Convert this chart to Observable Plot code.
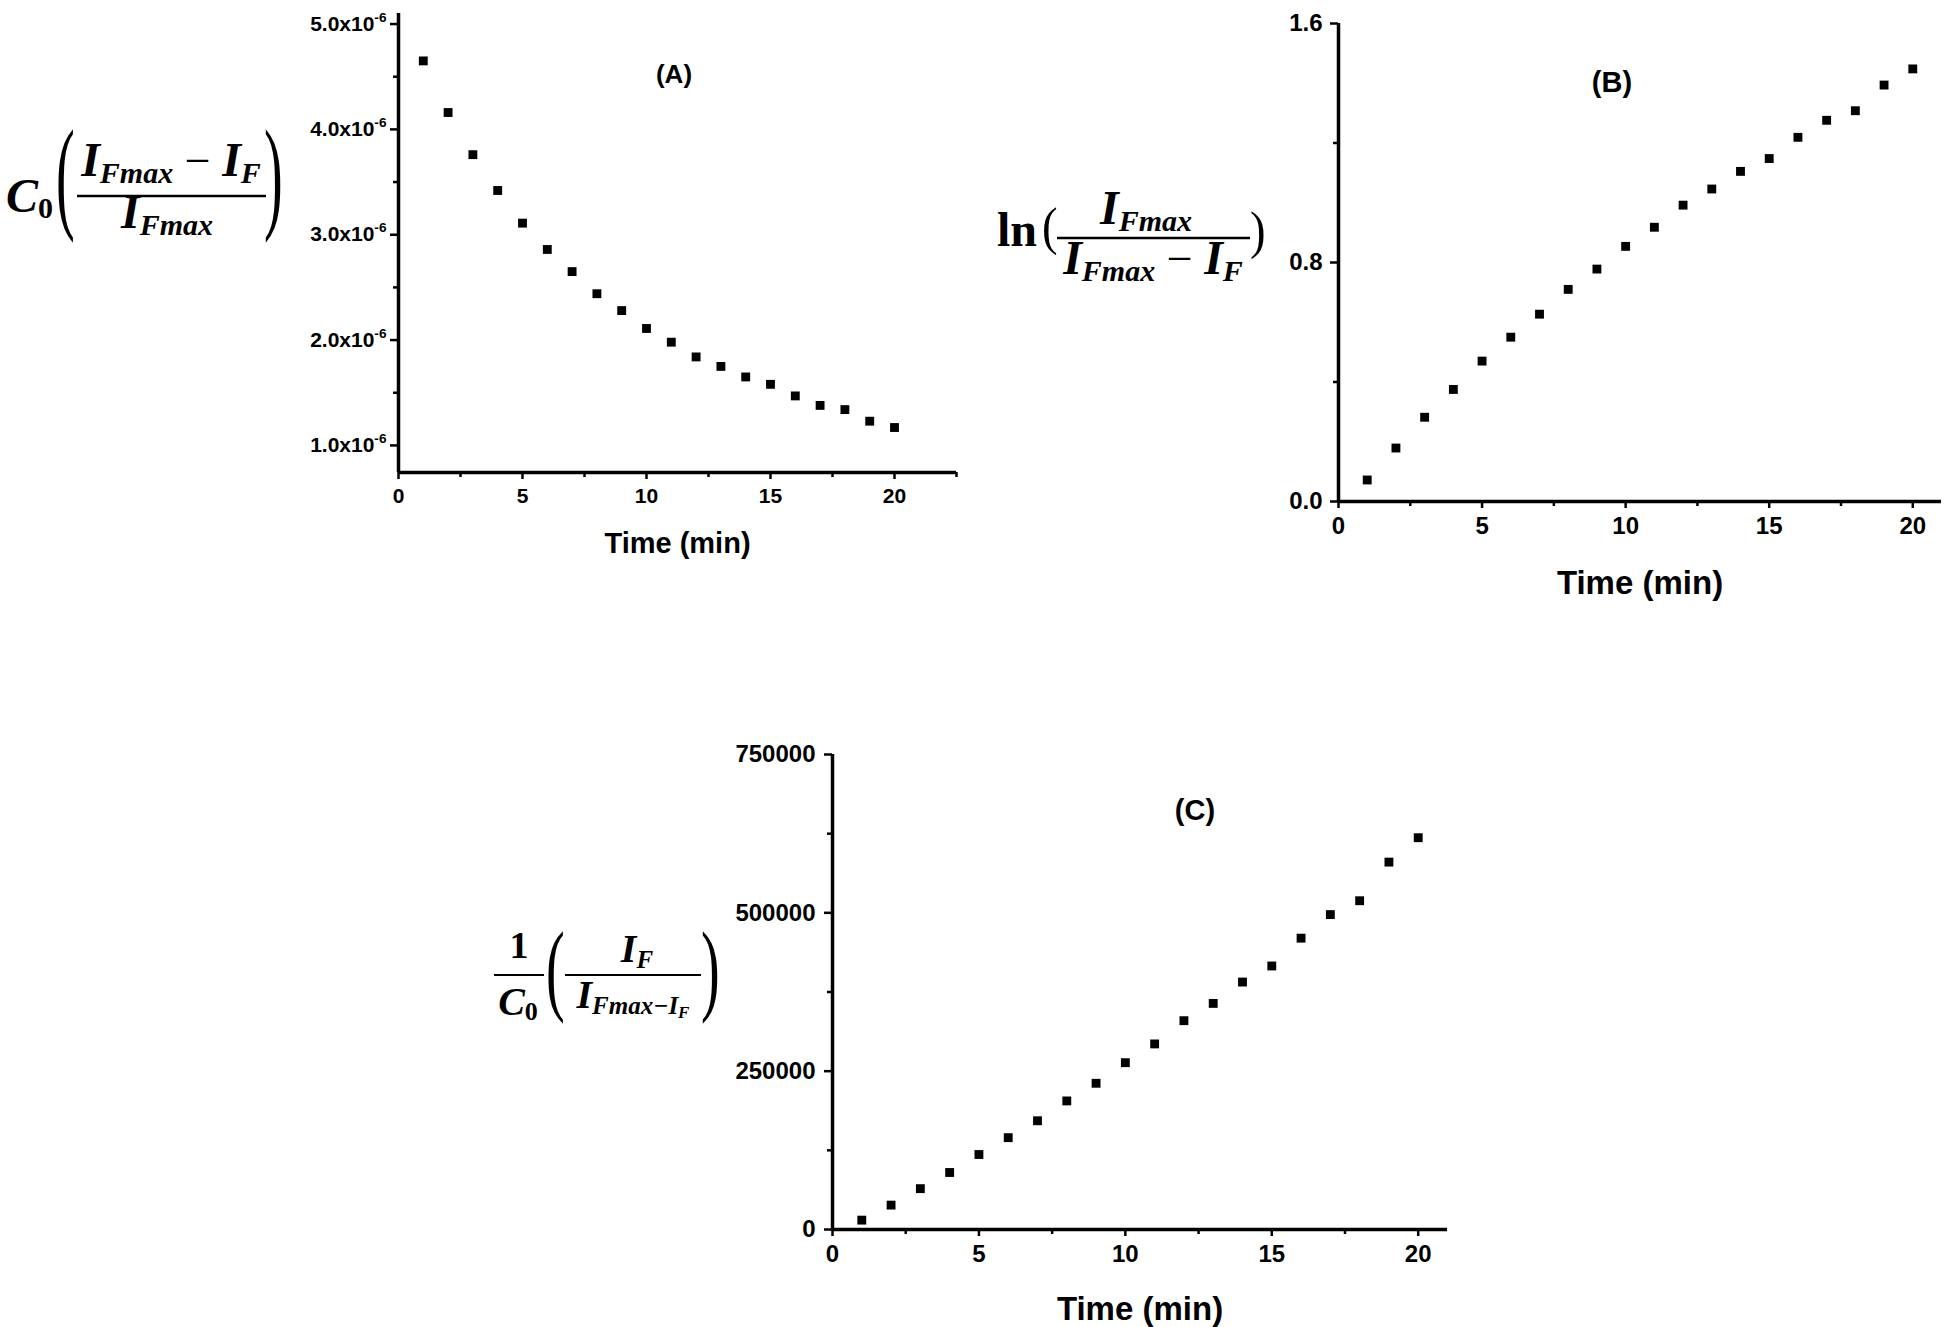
<!DOCTYPE html>
<html><head><meta charset="utf-8">
<script src="https://cdn.jsdelivr.net/npm/d3@7"></script>
<script src="https://cdn.jsdelivr.net/npm/@observablehq/plot@0.6"></script>
<style>
html,body{margin:0;padding:0;background:#fff;}
#root{position:relative;width:1946px;height:1327px;overflow:hidden;background:#fff;}
.panel{position:absolute;}
#overlay{position:absolute;left:0;top:0;pointer-events:none;}
</style></head><body><div id="root"></div>
<script>
// ---- data ----
const time = [1,2,3,4,5,6,7,8,9,10,11,12,13,14,15,16,17,18,19,20];
const seriesA = [4.65e-6,4.16e-6,3.76e-6,3.42e-6,3.11e-6,2.86e-6,2.65e-6,2.44e-6,2.28e-6,2.11e-6,
                 1.98e-6,1.84e-6,1.75e-6,1.65e-6,1.58e-6,1.47e-6,1.38e-6,1.34e-6,1.23e-6,1.17e-6];
const seriesB = [0.072,0.179,0.282,0.375,0.470,0.550,0.627,0.710,0.778,0.854,
                 0.918,0.992,1.046,1.105,1.148,1.219,1.276,1.308,1.394,1.448];
const seriesC = [14800,38500,64500,90000,118400,145000,171700,203000,230900,263400,
                 293000,329700,357000,390700,416100,460000,497200,519100,580100,618600];
const xTicks = [0,5,10,15,20];
const xMinorA = [2.5,7.5,12.5,17.5,22.5];
const xMinorBC = [2.5,7.5,12.5,17.5];
const yTicksA = [1e-6,2e-6,3e-6,4e-6,5e-6];
const yTickLabelsA = ["1.0x10","2.0x10","3.0x10","4.0x10","5.0x10"];
const yTickExpA = "-6";
const yMinorA = [1.5e-6,2.5e-6,3.5e-6,4.5e-6];
const yTicksB = [0,0.8,1.6];
const yTickLabelsB = ["0.0","0.8","1.6"];
const yMinorB = [0.4,1.2];
const yTicksC = [0,250000,500000,750000];
const yMinorC = [125000,375000,625000];
const xTitle = "Time (min)";
const panelLetters = ["(A)","(B)","(C)"];

const root = document.getElementById("root");
const FONT = "'Liberation Sans', Arial, Helvetica, sans-serif";

function makePanel(cfg) {
  const data = time.map((t,i)=>({t, v: cfg.values[i]}));
  const svg = Plot.plot({
    width: cfg.width, height: cfg.height,
    marginLeft: cfg.ml, marginRight: cfg.mr, marginTop: cfg.mt, marginBottom: cfg.mb,
    style: {fontFamily: FONT, fontWeight: "bold", fontSize: cfg.tickFont + "px", color: "#000", background: "transparent", overflow: "visible"},
    x: {domain: cfg.xDomain},
    y: {domain: cfg.yDomain},
    marks: [
      Plot.axisX({ticks: xTicks, tickSize: 7, tickPadding: cfg.xPad, strokeWidth: 2.5,
                  label: xTitle, labelAnchor: "center", labelOffset: cfg.labelOffset, labelArrow: "none"}),
      Plot.axisX({ticks: cfg.xMinor, tickSize: 5, strokeWidth: 2.5, text: null, label: null}),
      Plot.axisY({ticks: cfg.yTicks, tickFormat: cfg.yFormat, tickSize: 8, tickPadding: cfg.yPad, strokeWidth: 2.5, label: null}),
      Plot.axisY({ticks: cfg.yMinor, tickSize: 5, strokeWidth: 2.5, text: null, label: null}),
      Plot.ruleX([cfg.xDomain[0]], {stroke: "#000", strokeWidth: 3.5}),
      Plot.ruleY([cfg.yDomain[0]], {stroke: "#000", strokeWidth: 3.5}),
      Plot.dot(data, {x: "t", y: "v", symbol: "square", r: 5, fill: "#000", stroke: null})
    ]
  });
  svg.classList.add("panel");
  svg.style.left = cfg.left + "px";
  svg.style.top = cfg.top + "px";
  const lab = svg.querySelector('[aria-label="x-axis label"]');
  if (lab) lab.setAttribute("font-size", cfg.titleFont);
  if (cfg.sup) {
    d3.select(svg).selectAll('[aria-label="y-axis tick label"] text')
      .filter(function() { return cfg.supLabels.includes(this.textContent); })
      .each(function() {
        d3.select(this).append("tspan").attr("dy", -9).attr("font-size", cfg.tickFont * 0.65).text(cfg.sup);
      });
  }
  root.appendChild(svg);
}

makePanel({
  values: seriesA, left: 260, top: 0, width: 730, height: 580,
  ml: 138, mr: 34, mt: 13, mb: 108,
  xDomain: [0, 22.5], yDomain: [0.743e-6, 5.1e-6],
  yTicks: yTicksA, yFormat: d => yTickLabelsA[yTicksA.indexOf(d)] ?? "", yMinor: yMinorA, xMinor: xMinorA,
  tickFont: 21, titleFont: 29, xPad: 9, yPad: 4, labelOffset: 80, sup: yTickExpA, supLabels: yTickLabelsA
});
makePanel({
  values: seriesB, left: 1200, top: 0, width: 746, height: 620,
  ml: 138, mr: 5, mt: 23, mb: 119,
  xDomain: [0, 21], yDomain: [0, 1.6],
  yTicks: yTicksB, yFormat: d => yTickLabelsB[yTicksB.indexOf(d)] ?? "", yMinor: yMinorB, xMinor: xMinorBC,
  tickFont: 24, titleFont: 33, xPad: 8, yPad: 8, labelOffset: 92
});
makePanel({
  values: seriesC, left: 690, top: 700, width: 800, height: 627,
  ml: 142, mr: 43, mt: 54, mb: 98,
  xDomain: [0, 21], yDomain: [0, 750000],
  yTicks: yTicksC, yFormat: d => String(d), yMinor: yMinorC, xMinor: xMinorBC,
  tickFont: 24, titleFont: 33, xPad: 8, yPad: 9, labelOffset: 90
});

// ---- formula labels & panel letters ----
const SERIF = "'Liberation Serif', 'Times New Roman', serif";
const ov = d3.select(root).append("svg").attr("id","overlay").attr("width",1946).attr("height",1327)
  .attr("font-family", SERIF).attr("fill","#000");

function mtext(g, x, y, anchor, parts) {
  const t = g.append("text").attr("x", x).attr("y", y).attr("text-anchor", anchor);
  parts.forEach(p => {
    const s = t.append("tspan").text(p.t).attr("font-size", p.s)
      .attr("font-style", p.it === false ? "normal" : "italic").attr("font-weight", p.w || "bold");
    if (p.dy) s.attr("dy", p.dy);
  });
  return t;
}
function paren(g, ch, x, y, size, sx) {
  g.append("text").attr("transform", `translate(${x},${y}) scale(${sx},1)`)
    .attr("font-size", size).attr("font-weight", "normal").text(ch);
}
function bar(g, x1, x2, y, w) {
  g.append("line").attr("x1", x1).attr("x2", x2).attr("y1", y).attr("y2", y).attr("stroke", "#000").attr("stroke-width", w);
}

// (A) label: C0 ((IFmax - IF)/IFmax)
{
  const g = ov.append("g");
  mtext(g, 6, 212, "start", [{t:"C", s:48}, {t:"0", s:30, it:false, dy:6}]);
  paren(g, "(", 56, 216, 125, 0.45);
  mtext(g, 171, 176, "middle", [{t:"I", s:48}, {t:"Fmax", s:30, dy:7}, {t:" − ", s:46, it:false, w:"normal", dy:-7}, {t:"I", s:48}, {t:"F", s:30, dy:7}]);
  bar(g, 77, 266, 196, 2.5);
  mtext(g, 167, 228, "middle", [{t:"I", s:48}, {t:"Fmax", s:30, dy:7}]);
  paren(g, ")", 264, 216, 125, 0.45);
}
// (B) label: ln (IFmax/(IFmax - IF))
{
  const g = ov.append("g");
  mtext(g, 997, 246, "start", [{t:"ln", s:48, it:false}]);
  paren(g, "(", 1042, 244, 52, 0.9);
  mtext(g, 1146, 224, "middle", [{t:"I", s:48}, {t:"Fmax", s:30, dy:7}]);
  bar(g, 1057, 1250, 238, 2.5);
  mtext(g, 1153, 274, "middle", [{t:"I", s:48}, {t:"Fmax", s:30, dy:7}, {t:" − ", s:46, it:false, w:"normal", dy:-7}, {t:"I", s:48}, {t:"F", s:30, dy:7}]);
  paren(g, ")", 1250, 248, 52, 0.9);
}
// (C) label: 1/C0 (IF/(IFmax-IF))
{
  const g = ov.append("g");
  mtext(g, 519, 958, "middle", [{t:"1", s:38, it:false}]);
  bar(g, 494, 544, 975, 2);
  mtext(g, 518, 1015, "middle", [{t:"C", s:40}, {t:"0", s:26, it:false, dy:5}]);
  paren(g, "(", 546, 1002, 102, 0.55);
  mtext(g, 637, 962, "middle", [{t:"I", s:40}, {t:"F", s:25, dy:6}]);
  bar(g, 565, 701, 975, 2);
  mtext(g, 633, 1008, "middle", [{t:"I", s:40}, {t:"Fmax−I", s:25, dy:6}, {t:"F", s:17, dy:4}]);
  paren(g, ")", 701, 1002, 102, 0.55);
}
// panel letters
ov.append("text").attr("x", 674).attr("y", 83).attr("text-anchor","middle").attr("font-family", FONT).attr("font-weight","bold").attr("font-size", 26).text(panelLetters[0]);
ov.append("text").attr("x", 1612).attr("y", 92).attr("text-anchor","middle").attr("font-family", FONT).attr("font-weight","bold").attr("font-size", 29).text(panelLetters[1]);
ov.append("text").attr("x", 1195).attr("y", 820).attr("text-anchor","middle").attr("font-family", FONT).attr("font-weight","bold").attr("font-size", 29).text(panelLetters[2]);
</script></body></html>
